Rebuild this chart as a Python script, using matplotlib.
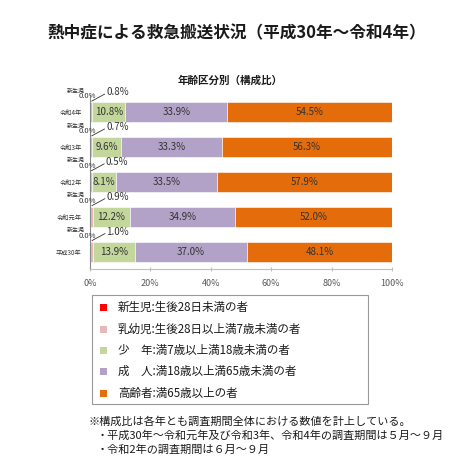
import numpy as np
import matplotlib
matplotlib.use("Agg")
import matplotlib.pyplot as plt
from matplotlib.patches import Rectangle
from matplotlib.transforms import offset_copy

plt.rcParams['font.family'] = ['Noto Sans CJK JP', 'DejaVu Sans']

# data (percent)
years = ['令和4年', '令和3年', '令和2年', '令和元年', '平成30年']
newborn = [0.0, 0.0, 0.0, 0.0, 0.0]
infant = [0.8, 0.7, 0.5, 0.9, 1.0]
youth = [10.8, 9.6, 8.1, 12.2, 13.9]
adult = [33.9, 33.3, 33.5, 34.9, 37.0]
elderly = [54.5, 56.3, 57.9, 52.0, 48.1]

legend_labels = ['新生児:生後28日未満の者',
                 '乳幼児:生後28日以上満7歳未満の者',
                 '少　年:満7歳以上満18歳未満の者',
                 '成　人:満18歳以上満65歳未満の者',
                 '高齢者:満65歳以上の者']
colors = ['#FF0000', '#E6B9B8', '#C3D69B', '#B3A2C7', '#E46C0A']

notes = ['※構成比は各年とも調査期間全体における数値を計上している。',
         '・平成30年～令和元年及び令和3年、令和4年の調査期間は５月～９月',
         '・令和2年の調査期間は６月～９月']

W = 474
fig = plt.figure(figsize=(4.74, 4.74), dpi=100)
ax = fig.add_axes([90/W, 1-269/W, 302/W, 174/W])

y = np.arange(len(years))
series = [newborn, infant, youth, adult, elderly]
left = np.zeros(len(years))
for vals, c in zip(series, colors):
    ax.barh(y, vals, left=left, height=0.57, color=c, edgecolor='white', linewidth=0.4)
    left = left + np.array(vals)

ax.set_xlim(0, 100)
ax.set_ylim(4.5, -0.49)

# labels inside bars for youth, adult, elderly
left = np.array(newborn) + np.array(infant)
for vals in [youth, adult, elderly]:
    for i, v in enumerate(vals):
        ax.text(left[i] + v/2, y[i], f'{v:.1f}%', ha='center', va='center',
                fontsize=7, color='#333333')
    left = left + np.array(vals)

# small labels for newborn / infant
line_start = offset_copy(ax.transData, fig=fig, x=0.5, y=11, units='dots')
for i in range(len(years)):
    x0 = newborn[i] + infant[i]/2
    ax.annotate('新生児', xy=(0, y[i]), xytext=(-14, 21), textcoords='offset pixels',
                ha='center', va='center', fontsize=4.3, color='#333333')
    ax.annotate(f'{newborn[i]:.1f}%', xy=(0, y[i]), xytext=(-3, 16), textcoords='offset pixels',
                ha='center', va='center', fontsize=5.5, color='#333333')
    ax.annotate(f'{infant[i]:.1f}%', xy=(x0, y[i]),
                xytext=(15, 20), textcoords='offset pixels',
                ha='left', va='center', fontsize=7, color='#333333')
    ax.annotate('', xy=(x0, y[i]), xycoords=line_start,
                xytext=(13, 7), textcoords='offset pixels',
                arrowprops=dict(arrowstyle='-', color='#333333', lw=0.6,
                                shrinkA=0, shrinkB=0))

ax.set_xticks([0, 20, 40, 60, 80, 100])
ax.set_xticklabels(['0%', '20%', '40%', '60%', '80%', '100%'])
ax.set_yticks(y)
ax.set_yticklabels(years)
ax.tick_params(axis='x', labelsize=6.5, labelcolor='#595959', length=3, direction='inout',
               color='#BFBFBF', pad=6)
ax.tick_params(axis='y', labelsize=4.5, labelcolor='#333333', length=0, pad=6)
for s in ['top', 'right']:
    ax.spines[s].set_visible(False)
ax.spines['left'].set_color('#888888')
ax.spines['bottom'].set_color('#BFBFBF')
ax.spines['left'].set_linewidth(0.8)
ax.spines['bottom'].set_linewidth(0.8)

# titles
fig.text(237/W, 1-33/W, '熱中症による救急搬送状況（平成30年～令和4年）', ha='center', va='center',
         fontsize=12, fontweight='bold', color='#1a1a1a')
fig.text(230/W, 1-81/W, '年齢区分別（構成比）', ha='center', va='center',
         fontsize=7.6, fontweight='bold', color='#1a1a1a')

# legend box
fig.patches.append(Rectangle((92/W, 1-404/W), 276/W, 109/W, transform=fig.transFigure,
                             facecolor='white', edgecolor='#999999', linewidth=0.8))
rows = [307, 329, 350, 371, 393]
for r, lab, c in zip(rows, legend_labels, colors):
    fig.patches.append(Rectangle((100/W, 1-(r+3.5)/W), 7/W, 7/W, transform=fig.transFigure,
                                 facecolor=c, edgecolor='none'))
    fig.text(118/W, 1-r/W, lab, ha='left', va='center', fontsize=8.3, color='#1a1a1a')

# notes
fig.text(89/W, 1-422/W, notes[0], ha='left', va='center', fontsize=8, color='#1a1a1a')
fig.text(97/W, 1-436/W, notes[1], ha='left', va='center', fontsize=8, color='#1a1a1a')
fig.text(97/W, 1-450/W, notes[2], ha='left', va='center', fontsize=8, color='#1a1a1a')

fig.savefig('out.png', dpi=100)
